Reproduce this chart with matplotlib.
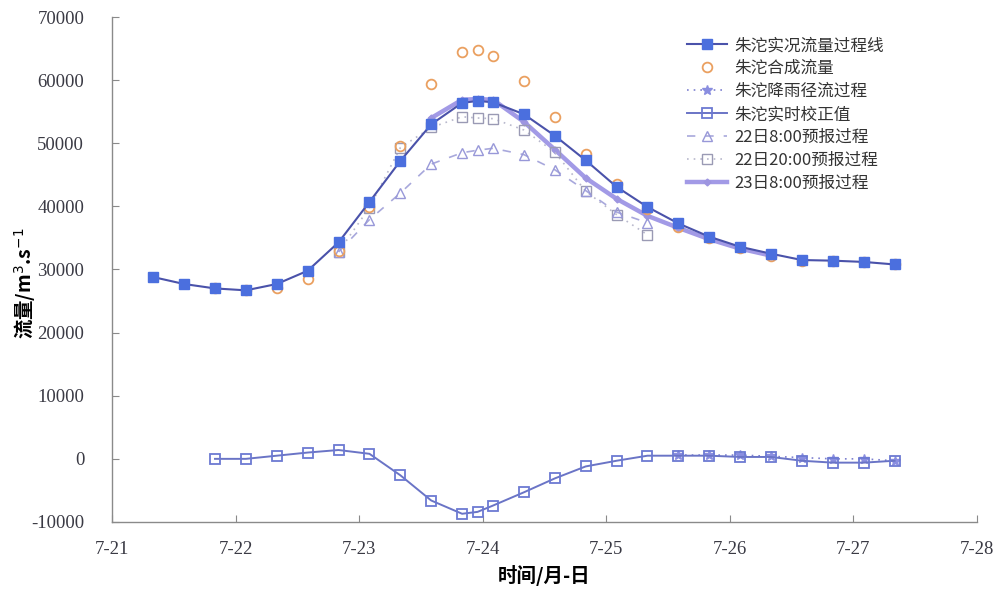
import pandas as pd
import matplotlib
matplotlib.use("Agg")
import matplotlib.pyplot as plt
import matplotlib.dates as mdates
from matplotlib.ticker import FuncFormatter

plt.rcParams['font.family'] = ['Noto Sans CJK SC', 'DejaVu Sans']
plt.rcParams['axes.unicode_minus'] = False

YEAR = "2012-07-"

# observed flow at Zhutuo
obs_t = ["21 08", "21 14", "21 20", "22 02", "22 08", "22 14", "22 20", "23 02", "23 08",
         "23 14", "23 20", "23 23", "24 02", "24 08", "24 14", "24 20", "25 02", "25 08",
         "25 14", "25 20", "26 02", "26 08", "26 14", "26 20", "27 02", "27 08"]
obs_q = [28800, 27700, 27000, 26700, 27700, 29800, 34300, 40700, 47200,
         53000, 56400, 56700, 56500, 54600, 51200, 47300, 43100, 39900,
         37300, 35200, 33600, 32500, 31500, 31400, 31200, 30800]

# synthesized flow and real-time correction (same times)
syn_t = obs_t[2:]
syn_q = [27000, 26700, 27100, 28500, 33000, 39900, 49500, 59400, 64500, 64800, 63800, 59900,
         54200, 48300, 43500, 39600, 36800, 35000, 33400, 32200, 31400, 31400, 31200, 30800]
corr_q = [0, 0, 500, 1000, 1400, 800, -2600, -6600, -8700, -8400, -7400, -5300,
          -3100, -1200, -300, 500, 500, 500, 300, 300, -300, -600, -600, -300]

# local rainfall runoff
rain_t = ["25 14", "25 20", "26 02", "26 08", "26 14", "26 20", "27 02", "27 08"]
rain_q = [600, 600, 600, 400, 200, 0, 0, -300]

# forecasts
f1_t = ["22 20", "23 02", "23 08", "23 14", "23 20", "23 23", "24 02", "24 08",
        "24 14", "24 20", "25 02", "25 08"]
f1_q = [32800, 37900, 42100, 46700, 48500, 48900, 49200, 48200, 45800, 42500, 39100, 37400]
f2_t = f1_t
f2_q = [32800, 39800, 49300, 52500, 54200, 54000, 53900, 52100, 48600, 42400, 38700, 35500]
f3_t = ["23 14", "23 20", "23 23", "24 02", "24 08", "24 14", "24 20", "25 02",
        "25 08", "25 14", "25 20", "26 02", "26 08"]
f3_q = [54000, 56900, 57000, 56900, 53400, 49000, 44500, 41200, 38500, 36600, 34800, 33300, 32200]

tick_days = ["21", "22", "23", "24", "25", "26", "27", "28"]


def to_dt(lst):
    return pd.to_datetime([YEAR + s.split()[0] + " " + s.split()[1] + ":00" for s in lst])


fig = plt.figure(figsize=(10.02, 5.91), dpi=100)
ax = fig.add_axes([0.1118, 0.1168, 0.8632, 0.8544])

ax.plot(to_dt(f3_t), f3_q, color="#a29ae6", lw=3.2, marker="D", ms=3.5,
        mfc="#9d95e0", mec="#9d95e0", label="23日8:00预报过程", zorder=2)
ax.plot(to_dt(f2_t), f2_q, color="#b8b8cc", lw=1.2, ls=(0, (1, 3)), marker="s", ms=7.5,
        mfc="none", mec="#9a9ab4", mew=1.0, label="22日20:00预报过程", zorder=3)
ax.plot(to_dt(f1_t), f1_q, color="#a8a8dc", lw=1.2, ls=(0, (5, 6)), marker="^", ms=7.5,
        mfc="none", mec="#9898d8", mew=1.0, label="22日8:00预报过程", zorder=3)
ax.plot(to_dt(rain_t), rain_q, color="#7d80d0", lw=1.2, ls=(0, (1, 3)), marker="*", ms=7,
        mfc="#8a8ee0", mec="#8a8ee0", label="朱沱降雨径流过程", zorder=3)
ax.plot(to_dt(syn_t), corr_q, color="#6a74c6", lw=1.4, marker="s", ms=7.5,
        mfc="none", mec="#6c7ad2", mew=1.3, label="朱沱实时校正值", zorder=4)
ax.plot(to_dt(syn_t), syn_q, ls="none", marker="o", ms=7,
        mfc="none", mec="#eaa060", mew=1.3, label="朱沱合成流量", zorder=5)
ax.plot(to_dt(obs_t), obs_q, color="#4a52aa", lw=1.5, marker="s", ms=7.5,
        mfc="#4b6fde", mec="#4b6fde", label="朱沱实况流量过程线", zorder=6)

ax.set_ylim(-10000, 70000)
ax.set_yticks(range(-10000, 70001, 10000))
xt = pd.to_datetime([YEAR + d for d in tick_days])
ax.set_xlim(xt[0], xt[-1])
ax.set_xticks(xt)
ax.xaxis.set_major_formatter(FuncFormatter(
    lambda v, p: "7-%d" % mdates.num2date(v).day))

for s in ["top", "right"]:
    ax.spines[s].set_visible(False)
for s in ["left", "bottom"]:
    ax.spines[s].set_color("#8a8a8a")
    ax.spines[s].set_linewidth(1.0)
ax.tick_params(direction="in", length=5, color="#8a8a8a", labelcolor="#3a3a44",
               labelsize=13.5)
ax.tick_params(axis="y", pad=20)
ax.tick_params(axis="x", pad=14)
for lab in ax.get_xticklabels() + ax.get_yticklabels():
    lab.set_fontfamily("Liberation Serif")

ax.set_ylabel("流量/m$^{3}$.s$^{-1}$", fontsize=14, fontweight="bold", labelpad=-5, y=0.473)
ax.set_xlabel("时间/月-日", fontsize=14, fontweight="bold", labelpad=5)

h, l = ax.get_legend_handles_labels()
order = [6, 5, 3, 4, 2, 1, 0]
ax.legend([h[i] for i in order], [l[i] for i in order], loc="upper left",
          bbox_to_anchor=(0.648, 0.99), frameon=False, fontsize=12,
          handlelength=2.4, handletextpad=0.4, labelspacing=0.36, labelcolor="#333333")

fig.savefig("out.png", dpi=100)
